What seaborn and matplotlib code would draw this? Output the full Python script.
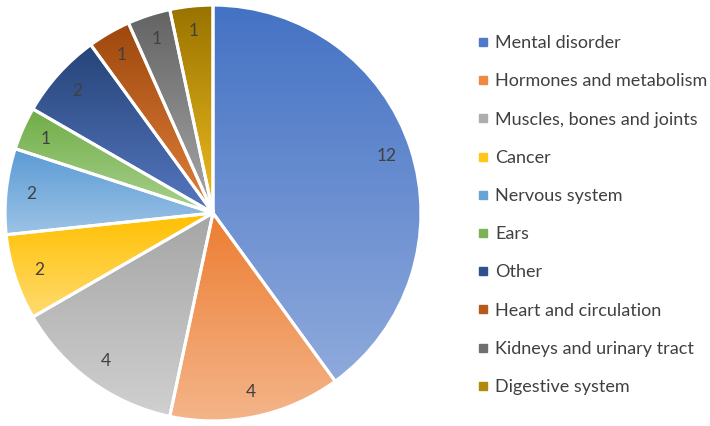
import matplotlib

matplotlib.use("Agg")
import matplotlib.pyplot as plt
import numpy as np
import seaborn as sns
from matplotlib.lines import Line2D

sns.set_theme(style="white")
plt.rcParams["font.family"] = ["Lato", "DejaVu Sans"]

categories = [
    "Mental disorder",
    "Hormones and metabolism",
    "Muscles, bones and joints",
    "Cancer",
    "Nervous system",
    "Ears",
    "Other",
    "Heart and circulation",
    "Kidneys and urinary tract",
    "Digestive system",
]
counts = [12, 4, 4, 2, 2, 1, 2, 1, 1, 1]

# top / bottom colours of each slice's vertical gradient
top_colors = ["#4472C4", "#ED7D31", "#A5A5A5", "#FFC000", "#5B9BD5",
              "#70AD47", "#264478", "#9E480E", "#636363", "#997300"]
bottom_colors = ["#8FAADC", "#F4B58A", "#D0D0D0", "#FFDB70", "#9DC3E6",
                 "#A9D18E", "#5577C0", "#E0803A", "#A8A8A8", "#F0BE20"]
legend_colors = ["#4F7AC8", "#EF8A45", "#ADADAD", "#FFC71A", "#68A3D8",
                 "#7BB356", "#2F5190", "#B55A1C", "#707070", "#B08A0A"]

fig = plt.figure(figsize=(7.1, 4.26), dpi=100)
ax = fig.add_axes([3 / 710, 3 / 426, 420 / 710, 420 / 426])

total = sum(counts)
wedges, texts, autotexts = ax.pie(
    counts,
    startangle=90,
    counterclock=False,
    radius=1.0,
    colors=["none"] * len(counts),
    wedgeprops=dict(edgecolor="white", linewidth=2.2, zorder=3),
    autopct=lambda p: f"{int(round(p * total / 100))}",
    pctdistance=0.88,
    textprops=dict(color="#404040", fontsize=12.5),
)
for t in autotexts:
    t.set_zorder(5)

grad = np.linspace(0, 1, 256)[:, None]
for w, c0, c1 in zip(wedges, top_colors, bottom_colors):
    ext = w.get_path().get_extents()
    cmap = sns.blend_palette([c0, c1], n_colors=256, as_cmap=True)
    im = ax.imshow(grad, cmap=cmap, aspect="auto",
                   extent=[ext.x0, ext.x1, ext.y0, ext.y1], zorder=1)
    im.set_clip_path(w)

ax.set_xlim(-1.01, 1.01)
ax.set_ylim(-1.01, 1.01)
ax.set_aspect("equal")
ax.axis("off")

handles = [Line2D([], [], marker="s", linestyle="none", markersize=5.5,
                  markerfacecolor=c, markeredgecolor=c) for c in legend_colors]
fig.legend(handles, categories, loc="upper left",
           bbox_to_anchor=(471 / 710, 1 - 28 / 426), frameon=False,
           fontsize=13, labelcolor="#404040", handlelength=0.5,
           handletextpad=0.45, labelspacing=1.23, borderaxespad=0)

fig.savefig("out.png", dpi=100)
